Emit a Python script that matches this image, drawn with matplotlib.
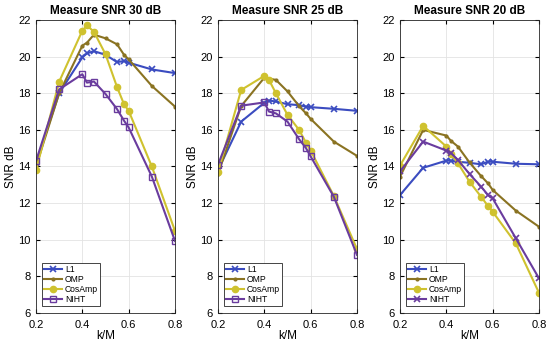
import numpy as np
import matplotlib
matplotlib.use('Agg')
import matplotlib.pyplot as plt

plt.rcParams['font.family'] = ['Liberation Sans', 'DejaVu Sans']

# sparsity ratio k/M
kM = [0.2, 0.3, 0.4, 0.42, 0.45, 0.5, 0.55, 0.58, 0.6, 0.7, 0.8]

# measure SNR 30 dB
l1_30 = [14.2, 18.0, 19.96, 20.18, 20.3, 20.1, 19.7, 19.76, 19.67, 19.3, 19.1]
omp_30 = [14.0, 18.0, 20.6, 20.76, 21.2, 21.0, 20.67, 20.1, 19.85, 18.4, 17.27]
cosamp_30 = [13.8, 18.63, 21.42, 21.7, 21.36, 20.13, 18.33, 17.4, 17.04, 14.0, 10.48]
niht_30 = [14.3, 18.21, 19.04, 18.58, 18.64, 17.96, 17.13, 16.5, 16.13, 13.45, 9.93]

# measure SNR 25 dB
l1_25 = [13.8, 16.45, 17.48, 17.6, 17.55, 17.4, 17.35, 17.27, 17.24, 17.15, 17.04]
omp_25 = [13.6, 17.3, 18.85, 18.8, 18.73, 18.1, 17.3, 16.9, 16.6, 15.36, 14.58]
cosamp_25 = [13.7, 18.18, 18.95, 18.73, 18.0, 16.82, 16.0, 15.3, 14.87, 12.39, 9.49]
niht_25 = [14.1, 17.32, 17.5, 17.0, 16.9, 16.45, 15.49, 15.0, 14.55, 12.35, 9.17]

# measure SNR 20 dB
l1_20 = [12.44, 13.93, 14.32, 14.32, 14.26, 14.2, 14.12, 14.26, 14.26, 14.15, 14.12]
omp_20 = [13.44, 16.0, 15.69, 15.4, 15.09, 14.22, 13.48, 13.08, 12.72, 11.59, 10.71]
cosamp_20 = [14.05, 16.22, 15.09, 14.7, 14.18, 13.17, 12.35, 11.84, 11.53, 9.8, 7.1]
niht_20 = [13.73, 15.36, 14.87, 14.73, 14.36, 13.59, 12.9, 12.44, 12.26, 10.08, 7.89]

titles = ['Measure SNR 30 dB', 'Measure SNR 25 dB', 'Measure SNR 20 dB']
panels = [(l1_30, omp_30, cosamp_30, niht_30),
          (l1_25, omp_25, cosamp_25, niht_25),
          (l1_20, omp_20, cosamp_20, niht_20)]
names = ['L1', 'OMP', 'CosAmp', 'NIHT']
colors = ['#3B4CC0', '#8A7322', '#CFC22F', '#6A3C9E']

fig = plt.figure(figsize=(5.5, 3.47), dpi=100)
lefts = [36, 218, 400]
for i in range(3):
    ax = fig.add_axes([lefts[i] / 550, 34 / 347, 139 / 550, 293 / 347])
    l1, omp, cosamp, niht = panels[i]
    ax.plot(kM, l1, color=colors[0], marker='x', ms=4, mew=1.2, lw=1.5, label=names[0])
    ax.plot(kM, omp, color=colors[1], marker='.', ms=4, lw=1.5, label=names[1])
    ax.plot(kM, cosamp, color=colors[2], marker='o', ms=4.5, lw=1.5, label=names[2])
    if i < 2:
        ax.plot(kM, niht, color=colors[3], marker='s', ms=5, mfc='none', mew=1.0, lw=1.5, label=names[3])
    else:
        ax.plot(kM, niht, color=colors[3], marker='x', ms=4, mew=1.2, lw=1.5, label=names[3])
    ax.set_xlim(0.2, 0.8)
    ax.set_ylim(6, 22)
    ax.set_xticks([0.2, 0.4, 0.6, 0.8])
    ax.set_yticks(np.arange(6, 23, 2))
    ax.tick_params(direction='in', labelsize=8, length=3, top=True, right=True)
    ax.tick_params(axis='x', pad=5)
    ax.tick_params(axis='y', pad=4)
    ax.grid(True, color='#E3E3E3', lw=0.6)
    ax.set_axisbelow(True)
    for s in ax.spines.values():
        s.set_linewidth(0.6)
        s.set_color('#262626')
    ax.set_title(titles[i], fontsize=8.5, fontweight='bold', pad=4)
    ax.set_xlabel('k/M', fontsize=8.5, labelpad=0)
    ax.set_ylabel('SNR dB', fontsize=8.5, labelpad=1)
    leg = ax.legend(loc='lower left', bbox_to_anchor=(0.045, 0.025), fontsize=6.2,
                    handlelength=2.1, borderpad=0.25, labelspacing=0.1,
                    handletextpad=0.3, borderaxespad=0, fancybox=False, framealpha=1)
    leg.get_frame().set_edgecolor('#262626')
    leg.get_frame().set_linewidth(0.6)

fig.savefig('out.png', dpi=100)
